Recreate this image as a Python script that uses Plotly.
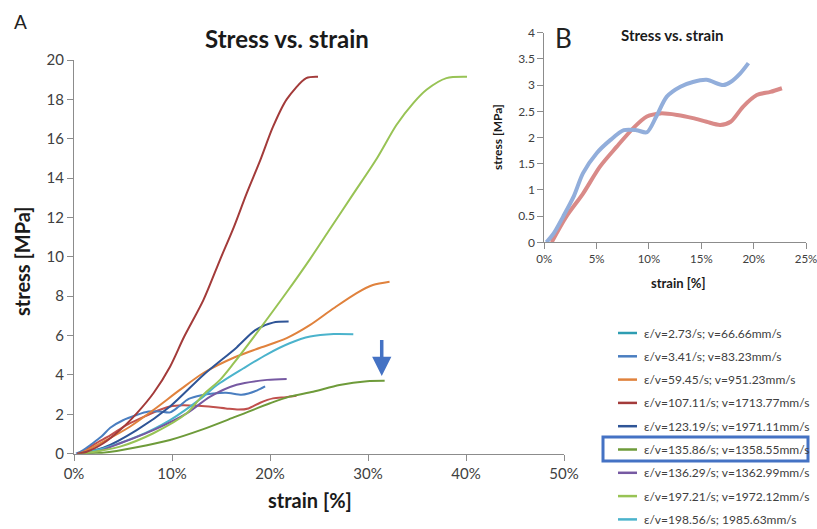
import plotly.graph_objects as go

W, H = 817, 529

# ---------------- data ----------------
legend_labels = [
    "ε/v=2.73/s; v=66.66mm/s",
    "ε/v=3.41/s; v=83.23mm/s",
    "ε/v=59.45/s; v=951.23mm/s",
    "ε/v=107.11/s; v=1713.77mm/s",
    "ε/v=123.19/s; v=1971.11mm/s",
    "ε/v=135.86/s; v=1358.55mm/s",
    "ε/v=136.29/s; v=1362.99mm/s",
    "ε/v=197.21/s; v=1972.12mm/s",
    "ε/v=198.56/s; 1985.63mm/s",
]

strain_273 = [0.7, 2.1, 3.7, 5.3, 6.9, 8.5, 9.8, 11.1, 12.7, 14.2, 15.5, 16.8, 17.8, 19.0, 20.3, 21.6, 22.7]
stress_273 = [0.0, 0.49, 0.93, 1.44, 1.82, 2.18, 2.40, 2.46, 2.43, 2.37, 2.30, 2.24, 2.30, 2.59, 2.81, 2.87, 2.94]

strain_341 = [0.2, 0.9, 1.8, 2.8, 3.7, 5.0, 6.3, 7.6, 8.8, 9.8, 10.7, 11.7, 13.0, 14.2, 15.5, 17.1, 17.8, 18.7, 19.5]
stress_341 = [0.0, 0.17, 0.49, 0.87, 1.32, 1.70, 1.95, 2.14, 2.14, 2.10, 2.40, 2.78, 2.97, 3.06, 3.10, 3.00, 3.06, 3.22, 3.42]

strain_5945 = [0.4, 1.0, 3.0, 5.7, 8.1, 10.8, 13.2, 16.4, 19.0, 21.7, 24.1, 26.5, 28.8, 30.5, 32.2]
stress_5945 = [0.0, 0.10, 0.61, 1.37, 2.22, 3.24, 4.10, 4.90, 5.38, 5.87, 6.54, 7.39, 8.15, 8.57, 8.74]

strain_10711 = [0.3, 1.3, 3.0, 4.7, 6.4, 8.1, 9.8, 11.2, 13.2, 14.9, 16.3, 17.6, 19.0, 20.3, 21.7, 23.7, 24.9]
stress_10711 = [0.0, 0.10, 0.53, 1.20, 2.05, 3.07, 4.42, 5.90, 7.80, 9.85, 11.5, 13.2, 14.9, 16.6, 18.0, 19.08, 19.15]

strain_12319 = [0.5, 3.0, 6.4, 9.8, 13.2, 16.6, 18.5, 20.3, 21.9]
stress_12319 = [0.0, 0.30, 1.20, 2.40, 4.00, 5.40, 6.28, 6.66, 6.71]

strain_13586 = [0.5, 3.0, 6.4, 9.8, 13.2, 16.5, 20.0, 22.0, 24.4, 27.1, 29.9, 31.7]
stress_13586 = [0.0, 0.05, 0.33, 0.70, 1.25, 1.88, 2.56, 2.90, 3.15, 3.49, 3.68, 3.70]

strain_13629 = [0.8, 2.3, 4.7, 8.1, 11.5, 13.9, 16.6, 19.7, 21.7]
stress_13629 = [0.0, 0.10, 0.53, 1.20, 2.05, 2.90, 3.50, 3.75, 3.80]

strain_19721 = [0.5, 1.3, 4.7, 8.1, 11.5, 13.2, 14.9, 16.3, 18.6, 21.7, 24.1, 26.1, 28.5, 30.9, 32.9, 34.6, 36.0, 38.0, 40.1]
stress_19721 = [0.0, 0.04, 0.36, 1.04, 2.05, 3.00, 3.75, 4.60, 6.10, 8.20, 9.90, 11.40, 13.20, 15.00, 16.70, 17.80, 18.50, 19.08, 19.15]

strain_19856 = [0.5, 3.0, 6.4, 9.8, 13.2, 14.6, 17.3, 19.7, 22.0, 24.1, 26.5, 28.5]
stress_19856 = [0.0, 0.27, 0.86, 1.71, 2.90, 3.49, 4.34, 5.05, 5.61, 5.95, 6.08, 6.07]

main_xticks = [0, 10, 20, 30, 40, 50]
main_xticklabels = ["0%", "10%", "20%", "30%", "40%", "50%"]
main_yticks = [0, 2, 4, 6, 8, 10, 12, 14, 16, 18, 20]

inset_xticks = [0, 5, 10, 15, 20, 25]
inset_xticklabels = ["0%", "5%", "10%", "15%", "20%", "25%"]
inset_yticks = [0, 0.5, 1, 1.5, 2, 2.5, 3, 3.5, 4]
inset_yticklabels = ["0", "0.5", "1", "1.5", "2", "2.5", "3", "3.5", "4"]

arrow_strain = 31.4
arrow_from, arrow_to = 5.85, 3.95

# ---------------- styles ----------------
FONT = "Lato, 'Open Sans', sans-serif"
legend_colors = ["#2E9DB2", "#4A7EC0", "#E0823D", "#A33B3A", "#2F5597",
                 "#6E9B3A", "#7659A2", "#98C355", "#4BB3CC"]
trace_colors = {
    "273": "#C0504D", "341": "#4A7EC0", "5945": "#E0823D", "10711": "#A33B3A",
    "12319": "#2F5597", "13586": "#6E9B3A", "13629": "#7659A2", "19721": "#98C355",
    "19856": "#4BB3CC",
}

series = [
    ("273", strain_273, stress_273),
    ("341", strain_341, stress_341),
    ("5945", strain_5945, stress_5945),
    ("12319", strain_12319, stress_12319),
    ("19856", strain_19856, stress_19856),
    ("13629", strain_13629, stress_13629),
    ("13586", strain_13586, stress_13586),
    ("19721", strain_19721, stress_19721),
    ("10711", strain_10711, stress_10711),
]

fig = go.Figure()
for key, xs, ys in series:
    fig.add_trace(go.Scatter(x=xs, y=ys, mode="lines", xaxis="x", yaxis="y",
                             line=dict(color=trace_colors[key], width=2, shape="spline", smoothing=0.8),
                             showlegend=False, hoverinfo="skip"))

# inset B
fig.add_trace(go.Scatter(x=strain_273, y=stress_273, mode="lines", xaxis="x2", yaxis="y2",
                         line=dict(color="#D98A88", width=4, shape="spline", smoothing=0.8),
                         showlegend=False, hoverinfo="skip"))
fig.add_trace(go.Scatter(x=strain_341, y=stress_341, mode="lines", xaxis="x2", yaxis="y2",
                         line=dict(color="#92AEDB", width=4, shape="spline", smoothing=0.8),
                         showlegend=False, hoverinfo="skip"))

def px(x):
    return x / W

def py(y):
    return 1 - y / H

axis_common = dict(showgrid=False, zeroline=False, showline=True, linecolor="#8C8C8C",
                   linewidth=1, ticks="outside", tickcolor="#8C8C8C", ticklen=6,
                   fixedrange=True, automargin=False, ticklabeloverflow="allow")

fig.update_layout(
    width=W, height=H,
    margin=dict(l=0, r=0, t=0, b=0, autoexpand=False),
    paper_bgcolor="white", plot_bgcolor="white",
    showlegend=False,
    xaxis=dict(domain=[px(74), px(564)], range=[0, 50], tickvals=main_xticks,
               ticktext=main_xticklabels, anchor="y",
               tickfont=dict(family=FONT, size=15, color="#404040"), **axis_common),
    yaxis=dict(domain=[py(453.7), py(60)], range=[0, 20], tickvals=main_yticks,
               anchor="x", tickfont=dict(family=FONT, size=15, color="#404040"), **axis_common),
    xaxis2=dict(domain=[px(544.3), px(806)], range=[0, 25], tickvals=inset_xticks,
                ticktext=inset_xticklabels, anchor="y2",
                tickfont=dict(family=FONT, size=11.5, color="#404040"), **axis_common),
    yaxis2=dict(domain=[py(242.3), py(32.7)], range=[0, 4], tickvals=inset_yticks,
                ticktext=inset_yticklabels, anchor="x2",
                tickfont=dict(family=FONT, size=12, color="#404040"), **axis_common),
)

annotations = [
    dict(text="A", x=px(20), y=py(22), font=dict(family=FONT, size=19, color="#222")),
    dict(text="<b>Stress vs. strain</b>", x=px(287), y=py(38), font=dict(family=FONT, size=24, color="#1a1a1a")),
    dict(text="<b>strain [%]</b>", x=px(310), y=py(500), font=dict(family=FONT, size=20, color="#1a1a1a")),
    dict(text="<b>stress [MPa]</b>", x=px(22), y=py(261), textangle=-90, font=dict(family=FONT, size=20, color="#1a1a1a")),
    dict(text="B", x=px(563), y=py(38), font=dict(family=FONT, size=26, color="#222")),
    dict(text="<b>Stress vs. strain</b>", x=px(672), y=py(35), font=dict(family=FONT, size=15, color="#1a1a1a")),
    dict(text="<b>strain [%]</b>", x=px(678), y=py(283), font=dict(family=FONT, size=13, color="#1a1a1a")),
    dict(text="<b>stress [MPa]</b>", x=px(497), y=py(137), textangle=-90, font=dict(family=FONT, size=12, color="#1a1a1a")),
]
for a in annotations:
    a.update(xref="paper", yref="paper", showarrow=False, xanchor="center", yanchor="middle")

# arrow pointing at the highlighted curve
annotations.append(dict(x=arrow_strain, y=arrow_to, ax=arrow_strain, ay=arrow_from,
                        xref="x", yref="y", axref="x", ayref="y", text="",
                        showarrow=True, arrowhead=2, arrowsize=1.1, arrowwidth=3.5,
                        arrowcolor="#4472C4"))

shapes = []
legend_y0, legend_dy = 333, 23.3
for i, (lab, col) in enumerate(zip(legend_labels, legend_colors)):
    yy = legend_y0 + i * legend_dy
    shapes.append(dict(type="line", xref="paper", yref="paper", x0=px(618), x1=px(637),
                       y0=py(yy), y1=py(yy), line=dict(color=col, width=2.5)))
    annotations.append(dict(text=lab, x=px(642), y=py(yy), xref="paper", yref="paper",
                            showarrow=False, xanchor="left", yanchor="middle",
                            font=dict(family=FONT, size=12, color="#404040")))

shapes.append(dict(type="rect", xref="paper", yref="paper", x0=px(603), x1=px(808),
                   y0=py(461), y1=py(437), line=dict(color="#4472C4", width=3)))

fig.update_layout(annotations=annotations, shapes=shapes)
fig.write_html("out.html")
